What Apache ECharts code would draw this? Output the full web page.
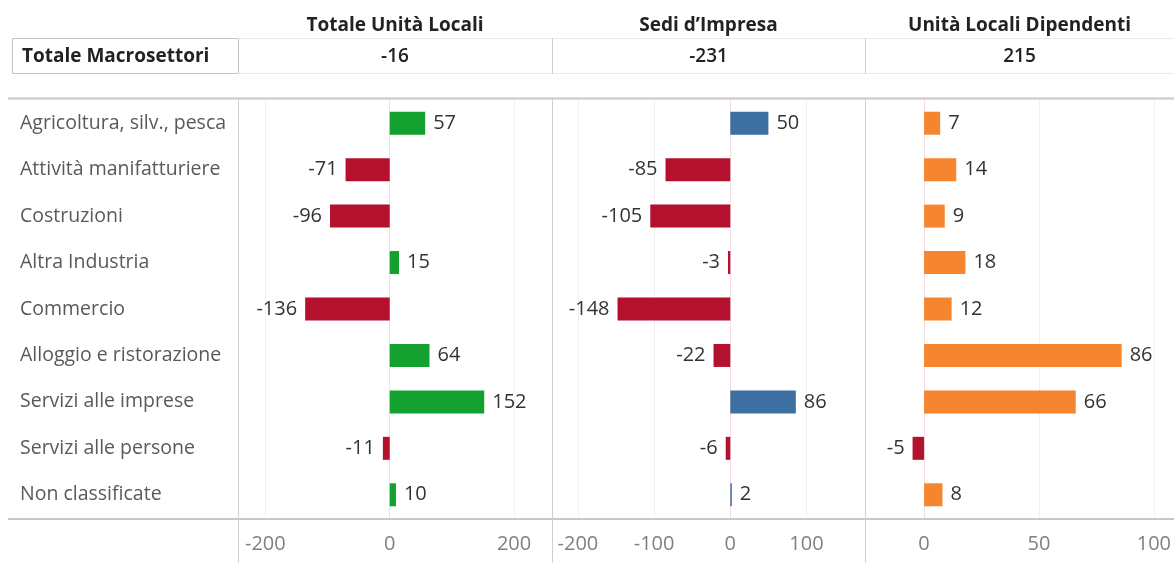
<!DOCTYPE html>
<html>
<head>
<meta charset="utf-8">
<script src="https://cdn.jsdelivr.net/npm/echarts@6/dist/echarts.min.js"></script>
<style>html,body{margin:0;padding:0;background:#fff;overflow:hidden}#c{width:1174px;height:563px}</style>
</head>
<body>
<div id="c"></div>
<script>
const categories = ['Agricoltura, silv., pesca','Attività manifatturiere','Costruzioni','Altra Industria','Commercio','Alloggio e ristorazione','Servizi alle imprese','Servizi alle persone','Non classificate'];
const panelTitles = ['Totale Unità Locali','Sedi d\u2019Impresa','Unità Locali Dipendenti'];
const totalLabel = 'Totale Macrosettori';
const totals = [-16, -231, 215];
const totaleUnitaLocali = [57, -71, -96, 15, -136, 64, 152, -11, 10];
const sediImpresa = [50, -85, -105, -3, -148, -22, 86, -6, 2];
const unitaLocaliDipendenti = [7, 14, 9, 18, 12, 86, 66, -5, 8];
const tickValues1 = [-200, 0, 200];
const tickValues2 = [-200, -100, 0, 100];
const tickValues3 = [0, 50, 100];

const FONT = '"Open Sans", sans-serif';
const NEG = '#b3112e';
const posColors = ['#14a02e', '#3e6fa3', '#f5852f'];
const seriesVals = [totaleUnitaLocali, sediImpresa, unitaLocaliDipendenti];
const ticks = [tickValues1, tickValues2, tickValues3];
const grids = [
  {left: 238, right: 622},
  {left: 552, right: 309},
  {left: 865, right: 0}
];
const ranges = [[-244, 261], [-234, 176.8], [-25.7, 103]];
const TOP = 100, BOTTOM = 518;
const centers = [395, 708.5, 1019.5];

const chart = echarts.init(document.getElementById('c'));
const option = {
  animation: false,
  textStyle: {fontFamily: FONT},
  grid: grids.map(g => ({left: g.left, right: g.right, top: TOP, bottom: 563 - BOTTOM, containLabel: false})),
  xAxis: grids.map((g, i) => ({
    type: 'value', gridIndex: i, min: ranges[i][0], max: ranges[i][1],
    axisLine: {show: false}, axisTick: {show: false}, splitLine: {show: false},
    axisLabel: {customValues: ticks[i], color: '#808080', fontSize: 20, fontFamily: FONT, margin: 16}
  })),
  yAxis: grids.map((g, i) => ({
    type: 'category', gridIndex: i, data: categories, inverse: true,
    axisLine: {show: false}, axisTick: {show: false}, splitLine: {show: false},
    axisLabel: i === 0 ? {show: true, align: 'left', margin: 218, color: '#595959', fontSize: 19.5, fontFamily: FONT} : {show: false}
  })),
  series: seriesVals.map((vals, i) => ({
    type: 'bar', xAxisIndex: i, yAxisIndex: i, barWidth: 23, z: 3,
    data: vals.map(v => ({
      value: v,
      itemStyle: {color: v < 0 ? NEG : posColors[i]},
      label: {show: true, position: v < 0 ? 'left' : 'right', distance: 8, color: '#333', fontSize: 20, fontFamily: FONT}
    })),
    markLine: {
      silent: true, symbol: 'none', z: 1, label: {show: false}, animation: false,
      data: ticks[i].map(t => ({xAxis: t, lineStyle: {color: t === 0 ? '#f5dde1' : '#f0f0f0', width: 1, type: 'solid'}}))
    }
  })),
  graphic: [
    ...panelTitles.map((t, i) => ({type: 'text', x: centers[i], y: 26,
      style: {text: t, font: 'bold 19px ' + FONT, fill: '#222', align: 'center', verticalAlign: 'middle'}})),
    ...totals.map((t, i) => ({type: 'text', x: centers[i], y: 57,
      style: {text: String(t), font: '600 19px ' + FONT, fill: '#222', align: 'center', verticalAlign: 'middle'}})),
    {type: 'rect', shape: {x: 12.5, y: 38.5, width: 226, height: 35}, style: {fill: 'none', stroke: '#c4c4c4', lineWidth: 1}},
    {type: 'text', x: 22, y: 57, style: {text: totalLabel, font: 'bold 19px ' + FONT, fill: '#222', align: 'left', verticalAlign: 'middle'}},
    {type: 'line', shape: {x1: 238, y1: 38.5, x2: 1174, y2: 38.5}, style: {stroke: '#ececec', lineWidth: 1}},
    {type: 'line', shape: {x1: 238, y1: 73.5, x2: 1174, y2: 73.5}, style: {stroke: '#ececec', lineWidth: 1}},
    {type: 'line', shape: {x1: 552.5, y1: 38, x2: 552.5, y2: 74}, style: {stroke: '#d0d0d0', lineWidth: 1}},
    {type: 'line', shape: {x1: 865.5, y1: 38, x2: 865.5, y2: 74}, style: {stroke: '#d0d0d0', lineWidth: 1}},
    {type: 'line', shape: {x1: 8, y1: 98.5, x2: 1174, y2: 98.5}, style: {stroke: '#c8c8c8', lineWidth: 2}},
    {type: 'line', shape: {x1: 8, y1: 519, x2: 1174, y2: 519}, style: {stroke: '#c8c8c8', lineWidth: 2}},
    {type: 'line', shape: {x1: 238.5, y1: 99, x2: 238.5, y2: 563}, style: {stroke: '#d0d0d0', lineWidth: 1}},
    {type: 'line', shape: {x1: 552.5, y1: 99, x2: 552.5, y2: 563}, style: {stroke: '#d0d0d0', lineWidth: 1}},
    {type: 'line', shape: {x1: 865.5, y1: 99, x2: 865.5, y2: 563}, style: {stroke: '#d0d0d0', lineWidth: 1}}
  ]
};
chart.setOption(option);
</script>
</body>
</html>
